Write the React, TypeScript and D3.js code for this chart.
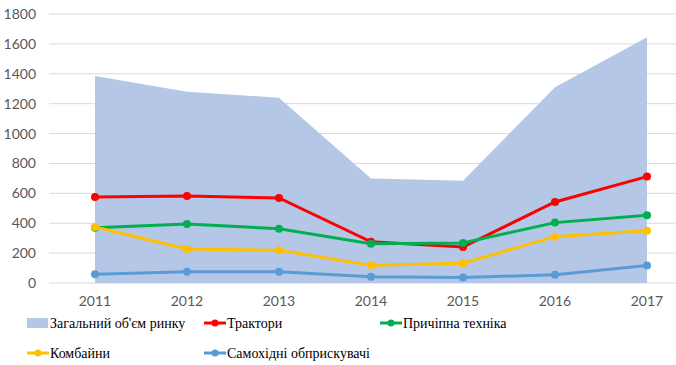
import React from 'react';
import * as d3 from 'd3';

const years = ['2011', '2012', '2013', '2014', '2015', '2016', '2017'];
const totalMarket = [1385, 1280, 1240, 700, 685, 1310, 1645];
const tractors = [575, 582, 569, 276, 241, 542, 712];
const trailed = [370, 395, 363, 263, 268, 404, 453];
const combines = [375, 228, 219, 118, 132, 310, 350];
const sprayers = [58, 76, 76, 42, 36, 56, 117];
const yTicks = [0, 200, 400, 600, 800, 1000, 1200, 1400, 1600, 1800];

const lineSeries = [
  { name: 'Трактори', values: tractors, color: '#FF0000' },
  { name: 'Причіпна техніка', values: trailed, color: '#00B050' },
  { name: 'Комбайни', values: combines, color: '#FFC000' },
  { name: 'Самохідні обприскувачі', values: sprayers, color: '#5B9BD5' },
];

export default function App() {
  const width = 676;
  const height = 365;
  const margin = { top: 14, bottom: 82, left: 49 };

  const x = d3
    .scaleBand()
    .domain(years)
    .range([margin.left, margin.left + 92 * 7])
    .padding(0);
  const cx = (d: string) => (x(d) as number) + x.bandwidth() / 2;

  const y = d3
    .scaleLinear()
    .domain([0, 1800])
    .range([height - margin.bottom, margin.top]);

  // Загальний обсяг ринку як площа
  const area = d3
    .area<number>()
    .x((_, i) => cx(years[i]))
    .y0(y(0))
    .y1((d) => y(d));

  const line = d3
    .line<number>()
    .x((_, i) => cx(years[i]))
    .y((d) => y(d));

  const axisStyle = { fontFamily: 'Lato, sans-serif', fontSize: '14px' };
  const legendStyle = {
    fontFamily: '"Liberation Serif", "DejaVu Serif", "Times New Roman", serif',
    fontSize: '14px',
  };

  // легенда: назва, колір, тип, позиція
  const legend = [
    { name: 'Загальний об\'єм ринку', color: '#B4C7E7', kind: 'area', lx: 27, ly: 323 },
    { ...lineSeries[0], kind: 'line', lx: 204, ly: 323 },
    { ...lineSeries[1], kind: 'line', lx: 380, ly: 323 },
    { ...lineSeries[2], kind: 'line', lx: 27, ly: 353 },
    { ...lineSeries[3], kind: 'line', lx: 204, ly: 353 },
  ];

  return (
    <svg
      width={width}
      height={height}
      style={{ position: 'absolute', left: 0, top: 0, background: '#fff' }}
    >
      {yTicks.map((t) => (
        <g key={t}>
          <line
            x1={margin.left}
            x2={width}
            y1={y(t)}
            y2={y(t)}
            stroke="#D9D9D9"
            strokeWidth={1}
          />
          <text
            x={36}
            y={y(t)}
            dy="0.36em"
            textAnchor="end"
            style={axisStyle}
            fill="#595959"
          >
            {t}
          </text>
        </g>
      ))}

      <path d={area(totalMarket) || ''} fill="#B4C7E7" />

      {lineSeries.map((s) => (
        <g key={s.name}>
          <path d={line(s.values) || ''} fill="none" stroke={s.color} strokeWidth={3} />
          {s.values.map((v, i) => (
            <circle key={i} cx={cx(years[i])} cy={y(v)} r={4} fill={s.color} />
          ))}
        </g>
      ))}

      {years.map((yr) => (
        <text key={yr} x={cx(yr)} y={306} textAnchor="middle" style={axisStyle} fill="#595959">
          {yr}
        </text>
      ))}

      {legend.map((l) => (
        <g key={l.name}>
          {l.kind === 'area' ? (
            <rect x={l.lx} y={l.ly - 5} width={21} height={10} fill={l.color} />
          ) : (
            <>
              <line x1={l.lx} x2={l.lx + 22} y1={l.ly} y2={l.ly} stroke={l.color} strokeWidth={3} />
              <circle cx={l.lx + 11} cy={l.ly} r={3.5} fill={l.color} />
            </>
          )}
          <text x={l.lx + 23} y={l.ly} dy="0.33em" style={legendStyle} fill="#000">
            {l.name}
          </text>
        </g>
      ))}
    </svg>
  );
}
